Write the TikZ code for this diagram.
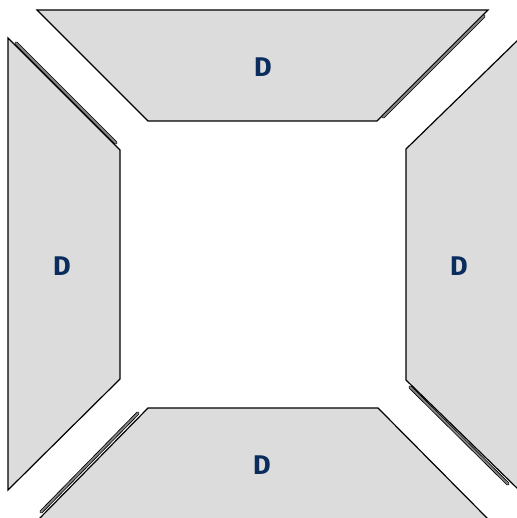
\documentclass[tikz,border=0pt]{standalone}
\usepackage{fontspec}
\setsansfont{Fira Sans}
\usepackage{tikz}
\definecolor{panelgray}{HTML}{DCDCDC}
\definecolor{ridgegray}{HTML}{858585}
\definecolor{labelblue}{HTML}{0B2D5E}

\begin{document}
\begin{tikzpicture}[x=1pt,y=-1pt,
  panel/.style={fill=panelgray,draw=black,line width=1.2pt,line join=miter},
  ridge/.style={draw=black,line width=0.8pt,double=ridgegray,double distance=1.8pt,line cap=round},
  lbl/.style={text=labelblue,font=\sffamily\bfseries\fontsize{27}{27}\selectfont}]
  \useasboundingbox (0,0) rectangle (516,518);
  % panels
  \draw[panel] (37,10) -- (488,10) -- (377,121) -- (148,121) -- cycle;
  \draw[panel] (8,38) -- (120,150) -- (120,379) -- (8,490) -- cycle;
  \draw[panel] (520,38) -- (406,149) -- (406,380) -- (520,491) -- cycle;
  \draw[panel] (148,408) -- (378,408) -- (490,521) -- (37,521) -- cycle;
  % ridges along one slanted side
  \draw[ridge] (383,117) -- (484,16);
  \draw[ridge] (16,43) -- (116,143);
  \draw[ridge] (138,413) -- (41,512);
  \draw[ridge] (410,387) -- (508,484);
  % labels
  \node[lbl] (top) at (263,67) {D};
  \node[lbl] (left) at (62,266) {D};
  \node[lbl] (right) at (459,266) {D};
  \node[lbl] (bottom) at (262,465) {D};
\end{tikzpicture}
\end{document}
